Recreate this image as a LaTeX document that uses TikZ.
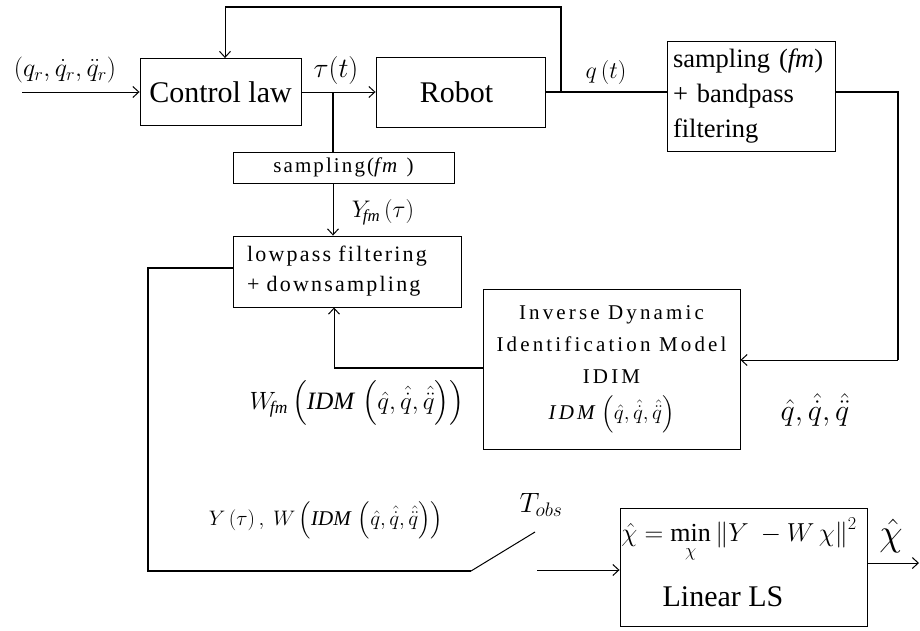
\RequirePackage{fix-cm}
\documentclass[tikz,border=0pt]{standalone}
\usepackage{amsmath}
\usepackage{fontspec}
\setmainfont{Liberation Serif}
\newfontfamily\spc[LetterSpace=10]{Liberation Serif}
\newfontfamily\spcb[LetterSpace=15]{Liberation Serif}
\usetikzlibrary{arrows.meta,calc}
\newcommand{\fs}[1]{\fontsize{#1}{#1}\selectfont}
\newcommand{\ital}[1]{\textit{#1}}
\begin{document}
\begin{tikzpicture}[x=1pt,y=-1pt,
  box/.style={draw,line width=0.9pt,inner sep=0pt,align=center},
  wire/.style={line width=1.4pt},
  arr/.style={line width=1pt,-{Straight Barb[length=6pt,width=11pt]}},
  lab/.style={inner sep=0pt}]
\useasboundingbox (0,0) rectangle (920,630);
% blocks
\node[box,minimum width=161,minimum height=67,font=\fs{30}] (cl) at (220.5,92) {Control law};
\node[box,minimum width=169,minimum height=70,font=\fs{30}] (rb) at (460.5,92) {\hspace{-8pt}Robot};
\node[box,minimum width=168,minimum height=110,align=left,font=\fontsize{26.5}{35}\selectfont,text width=156] (sb) at (751,96)
  {sampling (\textit{fm})\\+ bandpass\\filtering};
\node[box,minimum width=221,minimum height=31,font=\spc\fs{21}] (s1) at (343.5,167.5) {sampling(\textit{fm} )};
\node[box,minimum width=228,minimum height=71,align=left,font=\spc\fontsize{22}{30}\selectfont,text width=200] (lp) at (347,271.5)
  {lowpass filtering\\+ downsampling};
\node[box,minimum width=257,minimum height=160,font=\spcb\fontsize{21}{32}\selectfont] (id) at (611.5,369)
  {Inverse Dynamic\\Identification Model\\IDIM\\[4pt]
   $\ital{IDM}\,\left(\hat q,\hat{\dot q},\hat{\ddot q}\right)$};
\node[box,minimum width=247,minimum height=118] (ls) at (743.5,567) {};
\node[lab,font=\fs{26}] (lsf) at (739,540) {$\hat\chi=\min\limits_{\chi}\left\|Y\ -W\,\chi\right\|^2$};
\node[lab,font=\fs{30}] (lst) at (723,597) {Linear LS};
% coordinates
\coordinate (in) at (22,92);
\coordinate (tb) at (333,92);
\coordinate (fb) at (561,92);
\coordinate (top) at (561,7);
\coordinate (ftop) at (225,7);
\coordinate (rr) at (898,92);
\coordinate (rd) at (898,360);
\coordinate (c1) at (334,368);
\coordinate (lw) at (148,268);
\coordinate (lb) at (148,571);
\coordinate (sw1) at (471,571);
\coordinate (sw2) at (535,532);
\coordinate (sw3) at (537,570);
\coordinate (out) at (919,563);
% connectors
\draw[arr] (in) -- (cl.west);
\draw[arr] (cl.east) -- (rb.west);
\draw[wire] (tb) -- (tb |- s1.north);
\draw[arr] (tb |- s1.south) -- (tb |- lp.north);
\draw[wire] (rb.east) -- (rb.east -| sb.west);
\draw[wire] (fb) -- (top) -- (ftop);
\draw[arr] (ftop) -- (ftop |- cl.north);
\draw[wire] (sb.east |- rr) -- (rr) -- (rd);
\draw[arr] (rd) -- (rd -| id.east);
\draw[wire] (id.west |- c1) -- (c1);
\draw[arr] (c1) -- (c1 |- lp.south);
\draw[wire] (lp.west |- lw) -- (lw) -- (lb) -- (sw1);
\draw[line width=1pt] (sw1) -- (sw2);
\draw[arr] (sw3) -- (sw3 -| ls.west);
\draw[arr] (ls.east |- out) -- (out);
% labels
\node[lab,font=\fs{26}] (l1) at (65,70) {$\left(q_r,\dot q_r,\ddot q_r\right)$};
\node[lab,font=\fs{28}] (l2) at (336,70) {$\tau(t)$};
\node[lab,font=\fs{24}] (l3) at (606,72) {$q\left(t\right)$};
\node[lab,font=\fs{24}] (l4) at (383,212) {$Y_{\!\ital{fm}}\left(\tau\right)$};
\node[lab,font=\fs{25}] (l5) at (357,403) {$W_{\!\ital{fm}}\left(\ital{IDM}\,\left(\hat q,\hat{\dot q},\hat{\ddot q}\right)\right)$};
\node[lab,font=\fs{30}] (l6) at (815,410) {$\hat q,\hat{\dot q},\hat{\ddot q}$};
\node[lab,font=\fs{28}] (l7) at (541,505) {$T_{obs}$};
\node[lab,font=\fs{21}] (l8) at (326,520) {$Y\left(\tau\right),\ W\left(\ital{IDM}\,\left(\hat q,\hat{\dot q},\hat{\ddot q}\right)\right)$};
\node[lab,font=\fs{38}] (l9) at (891,536) {$\hat\chi$};
\end{tikzpicture}
\end{document}
